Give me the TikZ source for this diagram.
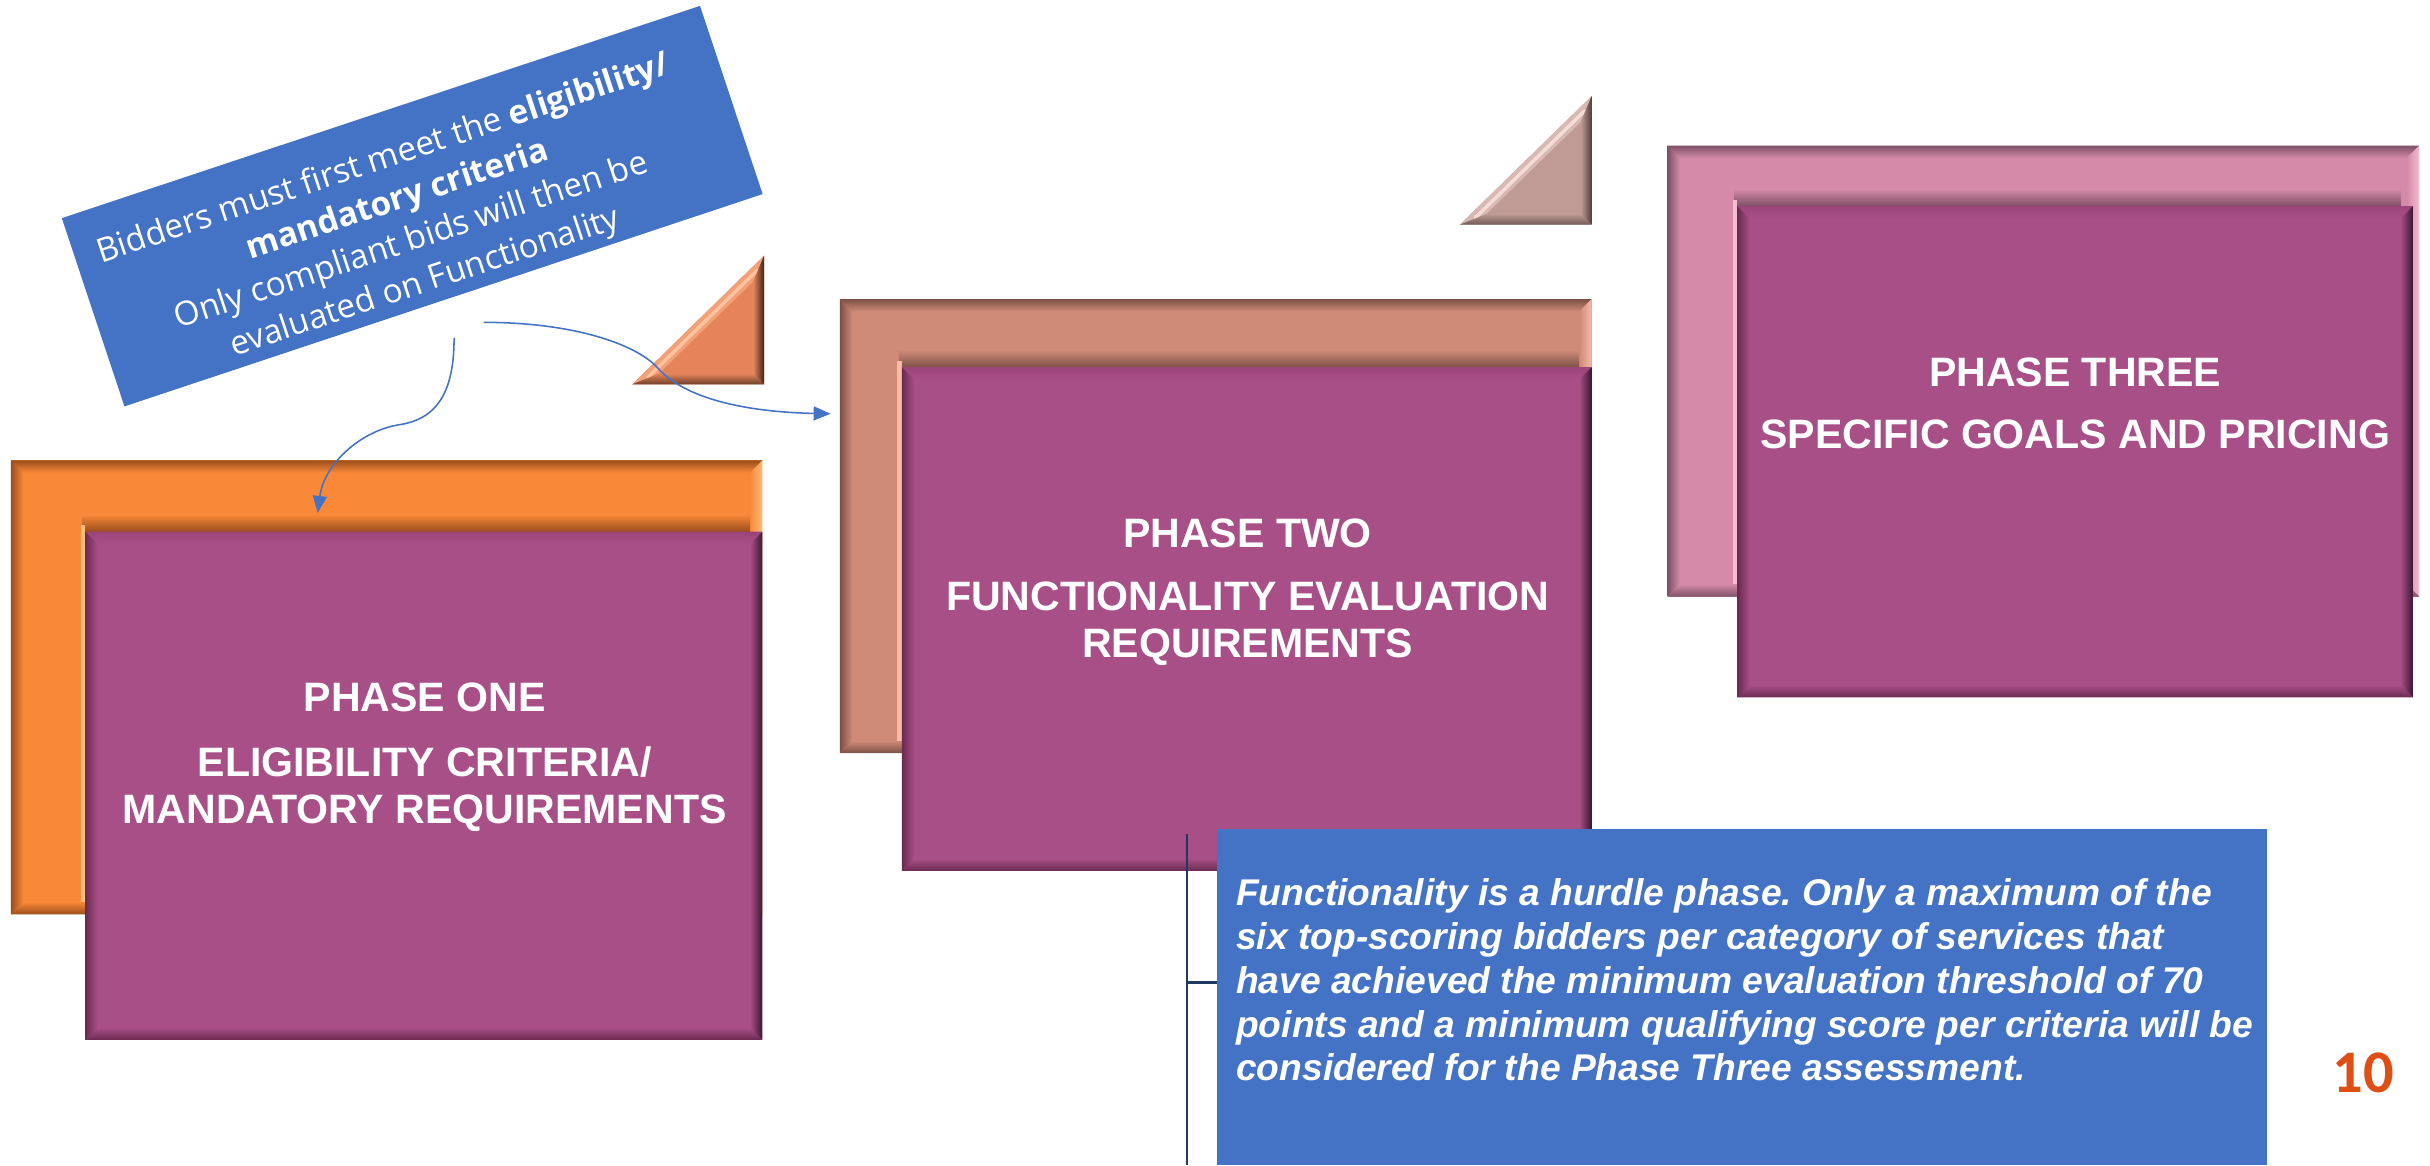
\documentclass[tikz,border=0pt]{standalone}
\usepackage{fontspec}
\setmainfont{Liberation Sans}
\newfontfamily\calibri{Carlito}
\newfontfamily\opensans{Open Sans}
\usetikzlibrary{arrows.meta,calc}
\frenchspacing

\definecolor{frontbase}{HTML}{A94F87}
\definecolor{frontlight}{HTML}{E890CC}
\definecolor{frontmid}{HTML}{9A4479}
\definecolor{frontdark}{HTML}{6A2A52}
\definecolor{frontvdark}{HTML}{3A1530}
\definecolor{orangebase}{HTML}{F98839}
\definecolor{orangelight}{HTML}{FFBE7A}
\definecolor{orangedark}{HTML}{9A4E1C}
\definecolor{salmonbase}{HTML}{CF8A78}
\definecolor{salmonlight}{HTML}{F6BCA8}
\definecolor{salmondark}{HTML}{7C5046}
\definecolor{pinkbase}{HTML}{D48AA8}
\definecolor{pinklight}{HTML}{F3BCD2}
\definecolor{pinkdark}{HTML}{7E5066}
\definecolor{trionebase}{HTML}{E5845B}
\definecolor{trionelight}{HTML}{FFC39E}
\definecolor{trionedark}{HTML}{3E2416}
\definecolor{tritwobase}{HTML}{C09A94}
\definecolor{tritwolight}{HTML}{F6DCD6}
\definecolor{tritwodark}{HTML}{4E3E3C}
\definecolor{calloutblue}{HTML}{4472C4}
\definecolor{linkblue}{HTML}{4472C4}
\definecolor{navyline}{HTML}{203864}
\definecolor{numred}{HTML}{DD4F14}

\tikzset{
  frame/.style={inner sep=0pt, outer sep=0pt, anchor=north west},
  phasetitle/.style={text=white, font=\bfseries\fontsize{26.5}{30}\selectfont,
    align=center, inner sep=0pt, anchor=north},
  link/.style={draw=linkblue, line width=1pt, -{Triangle[length=11pt,width=9pt]}},
}

% bevel width of the phase boxes
\def\bv{8}

% bevel edges of a back (frame) box: node, base, light, dark
\newcommand\backbevel[4]{%
  \shade[top color=#4, bottom color=#2]
    (#1.north west) -- (#1.north east) -- ([shift={(-\bv,\bv)}]#1.north east)
    -- ([shift={(\bv,\bv)}]#1.north west) -- cycle;
  \shade[left color=#4, right color=#2]
    (#1.north west) -- ([shift={(\bv,\bv)}]#1.north west)
    -- ([shift={(\bv,-\bv)}]#1.south west) -- (#1.south west) -- cycle;
  \shade[left color=#2, right color=#3]
    (#1.north east) -- (#1.south east) -- ([shift={(-\bv,-\bv)}]#1.south east)
    -- ([shift={(-\bv,\bv)}]#1.north east) -- cycle;
  \shade[top color=#2, bottom color=#4]
    (#1.south west) -- (#1.south east) -- ([shift={(-\bv,-\bv)}]#1.south east)
    -- ([shift={(\bv,-\bv)}]#1.south west) -- cycle;
}

% shadow cast by a front box on its frame: front node, back node, base, light, dark
\newcommand\frontshadow[5]{%
  \shade[top color=#3, bottom color=#5]
    ([shift={(-2,-11)}]#1.north west) rectangle ([shift={(-\bv,0)}]#1.north east);
  \fill[#4] ([shift={(-3,-4)}]#1.north west) rectangle ([shift={(0,-\bv)}]#1.west |- #2.south);
}

% bevel edges of a front (purple) box
\newcommand\frontbevel[1]{%
  \shade[top color=frontmid, middle color=frontlight, bottom color=frontbase]
    (#1.north west) -- (#1.north east) -- ([shift={(-\bv,\bv)}]#1.north east)
    -- ([shift={(\bv,\bv)}]#1.north west) -- cycle;
  \shade[left color=frontdark, right color=frontbase]
    (#1.north west) -- ([shift={(\bv,\bv)}]#1.north west)
    -- ([shift={(\bv,-\bv)}]#1.south west) -- (#1.south west) -- cycle;
  \shade[left color=frontbase, right color=frontvdark]
    (#1.north east) -- (#1.south east) -- ([shift={(-\bv,-\bv)}]#1.south east)
    -- ([shift={(-\bv,\bv)}]#1.north east) -- cycle;
  \shade[top color=frontbase, bottom color=frontdark]
    (#1.south west) -- (#1.south east) -- ([shift={(-\bv,-\bv)}]#1.south east)
    -- ([shift={(\bv,-\bv)}]#1.south west) -- cycle;
}

% bevelled right triangle, right angle at (#1,#2): base, light, dark
\newcommand\beveltri[5]{%
  \begin{scope}[shift={(#1,#2)}]
    \fill[#3] (-85,0) -- (0,0) -- (0,-83) -- cycle;
    \fill[#4!45!#3] (-85,0) -- (0,-83) -- (-7,-66.3) -- (-67.8,-7) -- cycle;
    \draw[#4, line width=2.2pt, line cap=round] (-75,-4.5) -- (-4.5,-73.5);
    \shade[left color=#3, right color=#5] (0,0) -- (0,-83) -- (-7,-66.3) -- (-7,-7) -- cycle;
    \shade[top color=#3, bottom color=#5!70!#3] (-85,0) -- (0,0) -- (-7,-7) -- (-67.8,-7) -- cycle;
  \end{scope}
}

\begin{document}
\begin{tikzpicture}[x=1pt,y=-1pt]
  \useasboundingbox (0,0) rectangle (1568,752);
  \fill[white] (0,0) rectangle (1568,752);

  % ---- decorative triangles
  \beveltri{493}{248}{trionebase}{trionelight}{trionedark}
  \beveltri{1027}{145}{tritwobase}{tritwolight}{tritwodark}

  % ---- phase one
  \node[frame, fill=orangebase, minimum width=485, minimum height=293] (p1back) at (7,297) {};
  \backbevel{p1back}{orangebase}{orangelight}{orangedark}
  \node[frame, minimum width=437, minimum height=328] (p1front) at (55,343) {};
  \frontshadow{p1front}{p1back}{orangebase}{orangelight}{orangedark}
  \fill[frontbase] (p1front.north west) rectangle (p1front.south east);
  \frontbevel{p1front}
  \node[phasetitle] (p1text) at (274,440.5)
    {PHASE ONE\\[12pt]ELIGIBILITY CRITERIA/\\MANDATORY REQUIREMENTS};

  % ---- phase two
  \node[frame, fill=salmonbase, minimum width=485, minimum height=293] (p2back) at (542,193) {};
  \backbevel{p2back}{salmonbase}{salmonlight}{salmondark}
  \node[frame, minimum width=445, minimum height=325] (p2front) at (582,237) {};
  \frontshadow{p2front}{p2back}{salmonbase}{salmonlight}{salmondark}
  \fill[frontbase] (p2front.north west) rectangle (p2front.south east);
  \frontbevel{p2front}
  \node[phasetitle] (p2text) at (805,334.5)
    {PHASE TWO\\[11pt]FUNCTIONALITY EVALUATION\\REQUIREMENTS};

  % ---- phase three
  \node[frame, fill=pinkbase, minimum width=485, minimum height=291] (p3back) at (1076,94) {};
  \backbevel{p3back}{pinkbase}{pinklight}{pinkdark}
  \node[frame, minimum width=436, minimum height=317] (p3front) at (1121,133) {};
  \frontshadow{p3front}{p3back}{pinkbase}{pinklight}{pinkdark}
  \fill[frontbase] (p3front.north west) rectangle (p3front.south east);
  \frontbevel{p3front}
  \node[phasetitle] (p3text) at (1339,230.5)
    {PHASE THREE\\[10pt]SPECIFIC GOALS AND PRICING};

  % ---- eligibility callout
  \node[fill=calloutblue, minimum width=434, minimum height=128, inner sep=0pt,
        rotate=18.4] (callout) at (266,133) {};
  \node[rotate=18.4, text=white, align=center, inner sep=0pt,
        font=\opensans\fontsize{21.5}{28}\selectfont] (callouttext) at ($(callout.center)+(-5,10)$)
    {Bidders must first meet the \textbf{eligibility/}\\
     \textbf{mandatory criteria}\\
     Only compliant bids will then be\\
     evaluated on Functionality};

  \coordinate (l1s) at (293,218);
  \coordinate (l1e) at (205,331);
  \coordinate (l2s) at (312,208);
  \coordinate (l2e) at (536,267);
  \draw[link] (l1s) .. controls (293,250) and (284,270) .. (258,274)
                    .. controls (232,278) and (209,300) .. (l1e);
  \draw[link] (l2s) .. controls (370,208) and (410,222) .. (424,237)
                    .. controls (444,260) and (490,266) .. (l2e);

  % ---- functionality note with line callout
  \node[frame, fill=calloutblue, minimum width=678, minimum height=217] (note) at (785,535) {};
  \node[anchor=north west, text=white, align=left, inner sep=0pt,
        font=\bfseries\itshape\fontsize{24}{28.2}\selectfont] (notetext) at (797.5,567)
    {Functionality is a hurdle phase. Only a maximum of the\\
     six top-scoring bidders per category of services that\\
     have achieved the minimum evaluation threshold of 70\\
     points and a minimum qualifying score per criteria will be\\
     considered for the Phase Three assessment.};
  \coordinate (ltop) at (766,538);
  \coordinate (lbot) at (766,752);
  \coordinate (lmid) at (766,634);
  \draw[navyline, line width=1.4pt] (ltop) -- (lbot);
  \draw[navyline, line width=1.4pt] (lmid) -- (lmid -| note.west);

  % ---- page number
  \node[text=numred, inner sep=0pt, font=\calibri\bfseries\fontsize{39}{44}\selectfont]
    (pagenum) at (1525,692) {10};
\end{tikzpicture}
\end{document}
